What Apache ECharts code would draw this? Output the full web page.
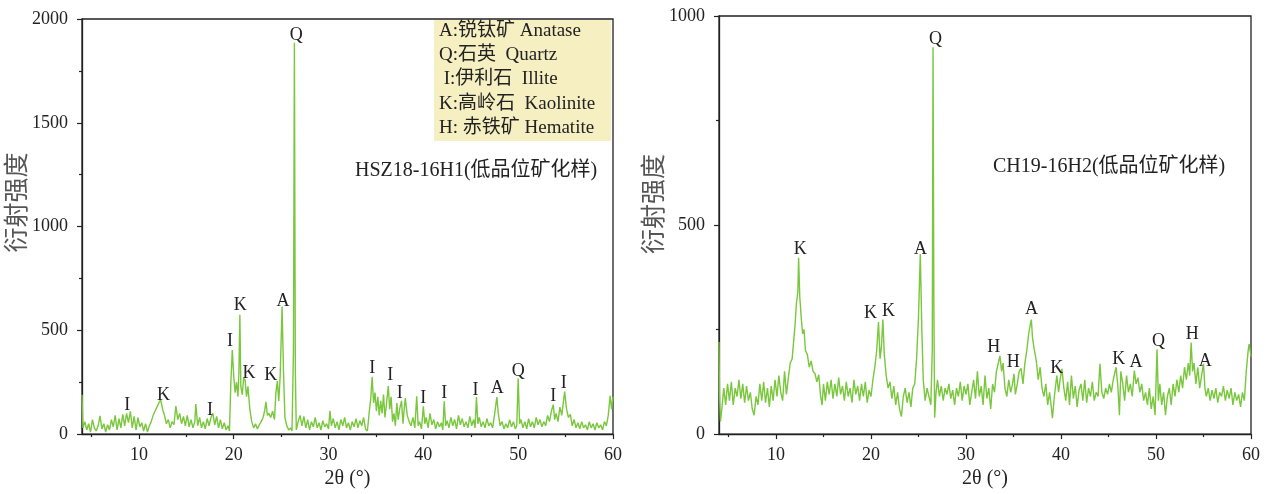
<!DOCTYPE html>
<html>
<head>
<meta charset="utf-8">
<script src="https://cdn.jsdelivr.net/npm/echarts@6/dist/echarts.min.js"></script>
<style>
html,body{margin:0;padding:0;background:#fff;}
#chart{width:1267px;height:494px;}
</style>
</head>
<body>
<div id="chart"></div>
<script>
// 左图 HSZ18-16H1 的 2θ 与强度
var theta1 = [4.0,4.1,4.3,4.5,4.7,4.9,5.1,5.3,5.5,5.7,5.9,6.1,6.3,6.5,6.7,6.9,7.1,7.3,7.5,7.7,7.9,8.1,8.3,8.5,8.7,8.9,9.1,9.3,9.5,9.7,9.9,
  10.1,10.3,10.5,10.7,10.9,11.1,11.3,11.5,11.7,11.9,12.1,12.3,12.5,12.7,12.9,13.1,13.3,13.5,13.7,13.9,14.1,14.3,14.5,14.7,14.9,
  15.1,15.3,15.5,15.7,15.9,16.0,16.2,16.4,16.6,16.8,17.0,17.2,17.4,17.6,17.8,18.0,18.2,18.4,18.6,18.8,19.0,19.2,19.4,19.55,
  19.7,19.85,20.0,20.15,20.3,20.45,20.55,20.65,20.75,20.9,21.05,21.2,21.35,21.5,21.7,21.9,22.1,22.3,22.5,22.7,22.9,23.1,23.25,
  23.4,23.55,23.7,23.9,24.1,24.3,24.45,24.6,24.75,24.9,25.1,25.25,25.4,25.6,25.8,26.0,26.15,26.3,26.4,26.5,26.6,26.8,27.0,
  27.2,27.4,27.6,27.8,28.0,28.2,28.4,28.6,28.8,29.0,29.2,29.4,29.6,29.8,30.0,30.15,30.3,30.5,30.7,30.9,31.1,31.3,31.5,31.7,
  31.9,32.1,32.3,32.5,32.7,32.9,33.1,33.3,33.5,33.7,33.9,34.1,34.3,34.45,34.6,34.75,34.9,35.05,35.2,35.35,35.5,35.65,35.8,
  35.95,36.1,36.3,36.45,36.6,36.75,36.9,37.05,37.2,37.35,37.5,37.7,37.85,38.0,38.1,38.3,38.5,38.7,38.9,39.1,39.3,39.45,39.6,
  39.8,40.0,40.15,40.3,40.5,40.7,40.9,41.1,41.3,41.5,41.7,41.9,42.05,42.2,42.35,42.5,42.7,42.9,43.1,43.3,43.5,43.7,43.9,44.1,
  44.3,44.5,44.7,44.9,45.1,45.3,45.45,45.6,45.75,45.9,46.1,46.3,46.5,46.7,46.9,47.1,47.3,47.5,47.75,47.9,48.1,48.3,48.5,48.7,
  48.9,49.1,49.3,49.5,49.7,49.85,50.0,50.15,50.3,50.5,50.7,50.9,51.1,51.3,51.5,51.7,51.9,52.1,52.3,52.5,52.7,52.9,53.1,53.3,
  53.5,53.7,53.85,54.0,54.2,54.4,54.6,54.9,55.1,55.3,55.5,55.7,55.9,56.1,56.3,56.5,56.7,56.9,57.1,57.3,57.5,57.7,57.9,58.1,
  58.3,58.5,58.7,58.9,59.1,59.3,59.5,59.7,59.85,60.0];
var counts1 = [190,30,60,20,50,10,70,30,15,40,88,25,50,10,45,20,70,35,90,20,75,30,95,40,100,55,110,30,85,20,80,
  35,55,15,50,10,40,60,90,110,130,150,165,120,90,50,70,30,60,45,135,70,100,50,85,40,
  90,35,70,30,60,145,40,80,30,60,25,75,40,80,100,45,85,30,70,25,55,20,40,15,
  250,405,280,200,250,180,300,575,230,190,270,260,180,230,120,60,30,50,25,45,60,80,110,
  155,90,100,80,110,70,200,255,160,280,615,300,80,40,20,30,15,400,1885,300,20,60,90,
  40,85,30,70,20,60,35,80,30,55,20,65,35,50,25,112,40,75,30,60,20,70,40,80,
  30,55,20,60,35,75,30,65,40,80,25,15,110,170,276,150,200,110,180,90,160,100,190,
  80,140,232,120,180,60,100,40,150,70,120,160,50,130,174,90,60,40,80,30,182,40,60,
  25,134,50,80,30,100,45,70,25,60,35,55,20,158,40,65,30,80,40,70,25,90,45,75,
  35,60,30,85,40,70,30,178,50,80,35,60,30,75,40,55,30,90,178,100,40,60,25,50,
  30,70,35,60,25,40,268,50,70,30,60,25,75,35,60,30,80,45,70,35,60,40,90,60,
  110,142,70,100,60,130,90,205,120,80,95,40,70,30,55,25,60,30,45,20,60,30,50,20,
  55,30,45,20,60,40,90,185,120,180];

// 右图 CH19-16H2 的 2θ 与强度
var theta2 = [4.0,4.05,4.15,4.3,4.5,4.7,4.9,5.1,5.3,5.5,5.7,5.9,6.1,6.3,6.5,6.7,6.9,7.1,7.3,7.5,7.7,7.9,8.1,8.3,8.5,8.7,8.9,
  9.1,9.3,9.5,9.7,9.9,10.1,10.3,10.5,10.7,10.9,11.1,11.3,11.5,11.7,11.85,12.0,12.15,12.3,12.38,12.5,12.65,12.8,12.95,13.1,
  13.3,13.5,13.7,13.9,14.1,14.3,14.5,14.7,14.85,15.0,15.2,15.4,15.6,15.8,16.0,16.2,16.4,16.6,16.8,17.0,17.2,17.4,17.6,17.8,
  18.0,18.2,18.4,18.6,18.8,19.0,19.2,19.4,19.6,19.8,20.0,20.2,20.4,20.6,20.79,20.95,21.1,21.25,21.4,21.6,21.8,22.0,22.2,22.4,
  22.6,22.8,23.0,23.2,23.4,23.6,23.8,24.0,24.2,24.4,24.6,24.8,25.0,25.19,25.35,25.5,25.7,25.9,26.1,26.3,26.45,26.53,26.62,
  26.7,26.85,27.0,27.2,27.4,27.6,27.8,28.0,28.2,28.4,28.6,28.8,29.0,29.2,29.4,29.6,29.8,30.0,30.2,30.4,30.6,30.8,31.0,31.2,
  31.4,31.6,31.8,32.0,32.2,32.4,32.6,32.8,33.0,33.2,33.4,33.57,33.75,33.9,34.1,34.3,34.5,34.7,34.9,35.05,35.2,35.4,35.6,35.8,
  36.0,36.2,36.4,36.6,36.75,36.88,37.0,37.2,37.4,37.6,37.8,38.0,38.2,38.4,38.6,38.8,39.0,39.1,39.3,39.56,39.75,39.9,40.1,
  40.3,40.5,40.7,40.9,41.1,41.3,41.5,41.7,41.9,42.1,42.3,42.5,42.7,42.9,43.1,43.3,43.5,43.7,43.9,44.1,44.3,44.5,44.7,44.9,
  45.1,45.3,45.5,45.8,46.0,46.15,46.3,46.5,46.7,46.9,47.1,47.3,47.5,47.72,47.9,48.1,48.3,48.5,48.7,48.9,49.1,49.3,49.5,49.7,
  49.9,50.11,50.25,50.4,50.6,50.8,51.0,51.2,51.4,51.6,51.8,52.0,52.2,52.4,52.6,52.8,53.0,53.2,53.4,53.55,53.7,53.85,54.0,
  54.2,54.4,54.6,54.8,55.0,55.15,55.3,55.5,55.7,55.9,56.1,56.3,56.5,56.7,56.9,57.1,57.3,57.5,57.7,57.9,58.1,58.3,58.5,58.7,
  58.9,59.1,59.3,59.5,59.7,59.8,60.0];
var counts2 = [220,100,30,60,110,70,120,80,125,70,110,90,130,85,120,75,115,80,100,60,45,90,70,120,80,125,75,
  110,65,115,80,130,90,140,100,80,150,95,135,170,180,220,260,313,340,422,330,280,240,250,200,
  190,160,175,150,145,125,142,90,69,120,80,125,95,130,85,120,90,135,95,115,80,125,90,110,
  75,130,95,115,80,120,90,125,75,105,90,130,160,200,268,180,210,274,190,140,110,125,85,115,
  70,100,60,42,90,110,75,100,65,110,120,180,280,431,250,130,80,110,90,70,200,925,300,
  39,100,130,90,115,80,110,95,120,85,105,70,110,90,125,80,115,95,120,70,100,130,85,150,
  90,115,70,140,85,110,60,120,100,150,170,187,150,170,110,90,130,100,120,144,95,120,150,157,
  120,170,200,240,260,274,230,200,175,130,160,110,90,120,70,100,60,38,90,140,100,130,156,
  110,80,125,70,140,85,115,65,105,120,80,130,75,110,90,125,80,100,90,168,100,85,110,95,
  120,100,130,160,110,45,150,120,80,140,100,120,90,152,120,135,100,120,80,100,70,110,60,90,
  45,203,80,120,70,100,45,90,110,70,120,90,130,100,140,110,160,130,170,140,219,150,170,
  120,160,110,140,168,110,90,110,80,105,85,110,75,100,90,115,80,105,85,110,70,100,80,95,
  65,100,80,150,200,215,185];

// 物相标注（字母中心所在的 2θ 与强度位置）
var peakName1 = ['I','K','I','I','K','K','K','A','Q','I','I','I','I','I','I','A','Q','I','I'];
var peakTheta1 = [8.77,12.6,17.5,19.6,20.7,21.6,23.9,25.2,26.6,34.6,36.5,37.5,40.0,42.2,45.5,47.8,50.0,53.7,54.8];
var peakY1 = [140,188,117,448,623,292,282,642,1924,315,282,197,174,197,211,221,301,183,245];

var peakName2 = ['K','K','K','A','Q','H','H','A','K','K','A','Q','H','A'];
var peakTheta2 = [12.55,19.95,21.85,25.2,26.8,32.93,34.98,36.9,39.56,46.07,47.9,50.25,53.81,55.18];
var peakY2 = [441,288,294,443,945,207,173,298,157,178,173,223,238,175];

// 刻度
var xLabelValues = [10,20,30,40,50,60];
var xMinorValues = [5,15,25,35,45,55];
var legendLines = ['A:锐钛矿 Anatase','Q:石英  Quartz',' I:伊利石  Illite','K:高岭石  Kaolinite','H: 赤铁矿 Hematite'];
var sampleName1 = 'HSZ18-16H1(低品位矿化样)';
var sampleName2 = 'CH19-16H2(低品位矿化样)';

(function(){
  var myChart = echarts.init(document.getElementById('chart'));
  var serif = '"Liberation Serif","Noto Sans CJK SC",serif';
  var lineColor = '#79c73d';

  function pairs(xs, ys){
    var out = [];
    for (var i = 0; i < xs.length; i++) out.push([xs[i], ys[i]]);
    return out;
  }
  function marks(names, xs, ys){
    var out = [];
    for (var i = 0; i < names.length; i++) out.push({name: names[i], coord: [xs[i], ys[i]]});
    return out;
  }
  function xMain(idx){
    return {
      type: 'value', gridIndex: idx, min: 4, max: 60, position: 'bottom',
      name: '2θ (°)', nameLocation: 'middle', nameGap: 34,
      nameTextStyle: {fontFamily: serif, fontSize: 20, color: '#222'},
      axisLine: {lineStyle: {color: '#222', width: 1.3}},
      axisTick: {customValues: xLabelValues, length: 5, lineStyle: {color: '#222', width: 1.2}},
      axisLabel: {customValues: xLabelValues, fontFamily: serif, fontSize: 18, color: '#222', margin: 12},
      splitLine: {show: false}
    };
  }
  function xMinor(idx){
    return {
      type: 'value', gridIndex: idx, min: 4, max: 60, position: 'bottom',
      axisLine: {show: false},
      axisTick: {customValues: xMinorValues, length: 3, lineStyle: {color: '#222', width: 1.2}},
      axisLabel: {show: false},
      splitLine: {show: false}
    };
  }
  function yAxis(idx, max, gap, pad){
    return {
      type: 'value', gridIndex: idx, min: 0, max: max, interval: 500,
      name: '衍射强度', nameLocation: 'middle', nameGap: gap,
      nameTextStyle: {fontFamily: '"Noto Sans CJK SC",sans-serif', fontSize: 25, color: '#555', padding: [0, 0, 0, pad]},
      axisLine: {show: true, lineStyle: {color: '#222', width: 1.3}},
      axisTick: {show: true, length: 5, lineStyle: {color: '#222', width: 1.2}},
      minorTick: {show: true, splitNumber: 2, length: 3, lineStyle: {color: '#222', width: 1.2}},
      axisLabel: {fontFamily: serif, fontSize: 18, color: '#222', margin: 14,
        formatter: function(v){ return String(v); }},
      splitLine: {show: false}
    };
  }
  function lineSeries(idx, data, markData){
    return {
      type: 'line', xAxisIndex: idx * 2, yAxisIndex: idx,
      data: data, showSymbol: false, symbol: 'none',
      lineStyle: {color: lineColor, width: 1.4},
      markPoint: {
        symbol: 'circle', symbolSize: 0, silent: true,
        label: {show: true, position: 'inside', formatter: '{b}', fontFamily: serif, fontSize: 18, color: '#222'},
        data: markData
      }
    };
  }

  // 图例文字
  var graphics = [{
    type: 'rect', shape: {x: 434, y: 20, width: 177, height: 121},
    style: {fill: '#f6efc2'}, z: 1
  }];
  for (var i = 0; i < legendLines.length; i++) {
    graphics.push({
      type: 'text', x: 439, y: 31 + i * 24.2, z: 2,
      style: {text: legendLines[i], font: '19px ' + serif, fill: '#222', verticalAlign: 'middle'}
    });
  }
  graphics.push({type: 'text', x: 355, y: 171, style: {text: sampleName1, font: '20px ' + serif, fill: '#222', verticalAlign: 'middle'}});
  graphics.push({type: 'text', x: 993, y: 167, style: {text: sampleName2, font: '20px ' + serif, fill: '#222', verticalAlign: 'middle'}});

  var option = {
    animation: false,
    backgroundColor: '#fff',
    grid: [
      {left: 82, top: 19, width: 531, height: 423, show: true, borderColor: '#222', borderWidth: 1.3, backgroundColor: 'transparent'},
      {left: 719, top: 16, width: 532, height: 423, show: true, borderColor: '#222', borderWidth: 1.3, backgroundColor: 'transparent'}
    ],
    xAxis: [xMain(0), xMinor(0), xMain(1), xMinor(1)],
    yAxis: [yAxis(0, 2000, 48, 48), yAxis(1, 1000, 52, 42)],
    series: [
      lineSeries(0, pairs(theta1, counts1), marks(peakName1, peakTheta1, peakY1)),
      lineSeries(1, pairs(theta2, counts2), marks(peakName2, peakTheta2, peakY2))
    ],
    graphic: graphics
  };
  myChart.setOption(option);
})();
</script>
</body>
</html>
